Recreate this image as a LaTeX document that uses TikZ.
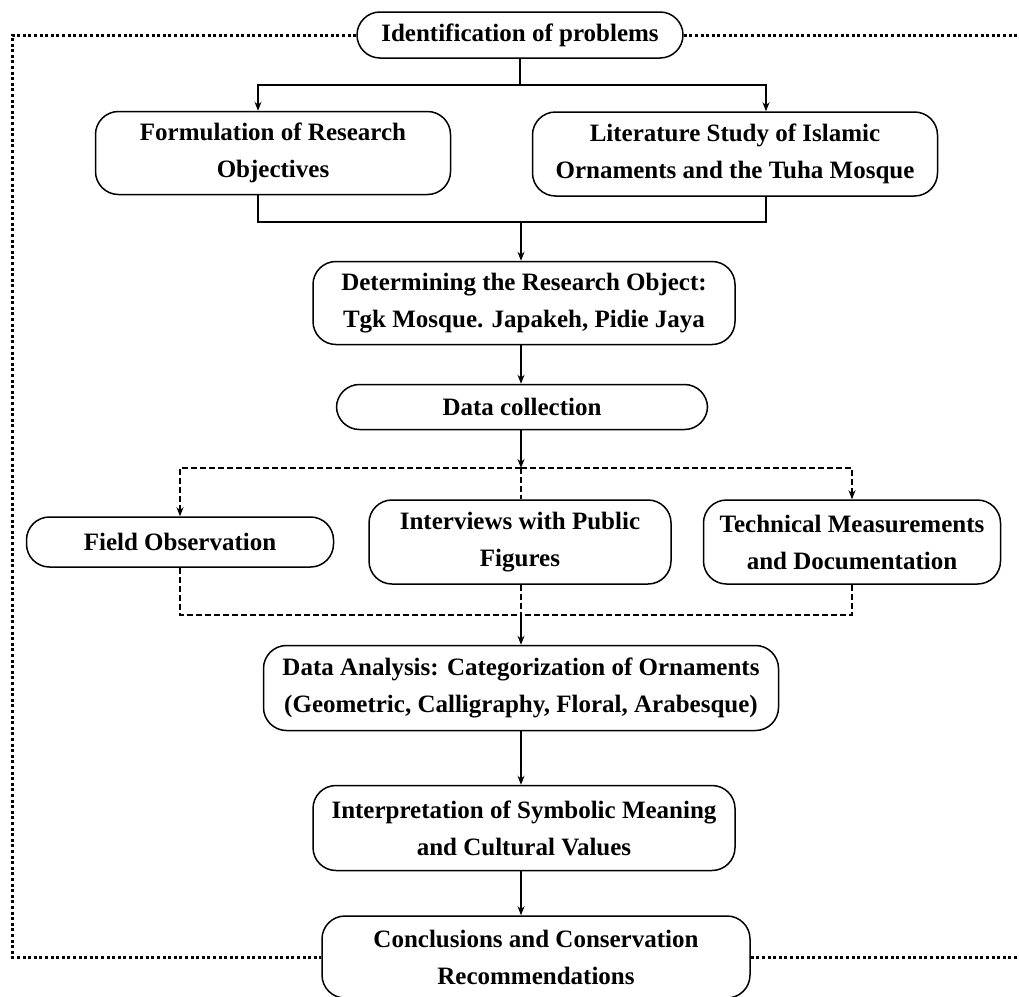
\documentclass[tikz,border=0pt]{standalone}
\usepackage{fontspec}
\setmainfont{Liberation Serif}
\usetikzlibrary{arrows.meta,positioning}

\tikzset{
  stage/.style={draw, line width=1.5pt, rounded corners=23pt, align=center,
    inner sep=0pt, font=\bfseries\fontsize{25}{37}\selectfont},
  flow/.style={line width=1.2pt, -{Stealth[length=9pt,width=7pt]}},
  link/.style={line width=1.2pt},
  branch/.style={line width=1.2pt, dash pattern=on 6pt off 3pt},
  feedback/.style={line width=3pt, dash pattern=on 3pt off 2.6pt}
}

\begin{document}
\begin{tikzpicture}[x=1pt,y=-1pt]
  \useasboundingbox (0,0) rectangle (1019,996);

  \node[stage, minimum width=326pt, minimum height=46pt] (ident) at (520,35) {Identification of problems};
  \node[stage, minimum width=355pt, minimum height=83pt] (formul) at (273,153) {Formulation of Research\\Objectives};
  \node[stage, minimum width=405pt, minimum height=84pt] (lit) at (735,154) {Literature Study of Islamic\\Ornaments and the Tuha Mosque};
  \node[stage, minimum width=422pt, minimum height=83pt] (determ) at (524,303) {Determining the Research Object:\\Tgk Mosque. Japakeh, Pidie Jaya};
  \node[stage, minimum width=371pt, minimum height=45pt] (collect) at (522,407) {Data collection};

  \node[stage, minimum width=307pt, minimum height=50pt] (field) at (180,542) {Field Observation};
  \node[stage, minimum width=302pt, minimum height=84pt] (interv) at (520,542) {Interviews with Public\\Figures};
  \node[stage, minimum width=297pt, minimum height=84pt] (tech) at (852,542) {Technical Measurements\\and Documentation};

  \node[stage, minimum width=515pt, minimum height=85pt] (analysis) at (521,688) {Data Analysis: Categorization of Ornaments\\(Geometric, Calligraphy, Floral, Arabesque)};
  \node[stage, minimum width=422pt, minimum height=85pt] (interp) at (524,828) {Interpretation of Symbolic Meaning\\and Cultural Values};
  \node[stage, minimum width=428pt, minimum height=82pt] (concl) at (536,957) {Conclusions and Conservation\\Recommendations};

  % split to objectives and literature
  \coordinate (split) at (520,85);
  \draw[link] (ident.south) -- (split);
  \draw[flow] (split) -| ([xshift=-15pt]formul.north);
  \draw[flow] (split) -| ([xshift=31pt]lit.north);

  % join towards research object
  \coordinate (join) at (521,222);
  \draw[link] ([xshift=-15pt]formul.south) |- (join);
  \draw[link] ([xshift=31pt]lit.south) |- (join);
  \draw[flow] (join) -- (join |- determ.north);
  \draw[flow] (join |- determ.south) -- (join |- collect.north);

  % data collection methods
  \coordinate (fanout) at (521,468);
  \draw[flow] (fanout |- collect.south) -- (fanout);
  \draw[branch, -{Stealth[length=9pt,width=7pt]}] (fanout) -| (field.north);
  \draw[branch, -{Stealth[length=9pt,width=7pt]}] (fanout) -| (tech.north);
  \draw[branch] (fanout) -- (fanout |- interv.north);

  \coordinate (fanin) at (521,615);
  \draw[branch] (field.south) |- (fanin);
  \draw[branch] (tech.south) |- (fanin);
  \draw[branch] (fanin |- interv.south) -- (fanin);
  \draw[flow] (fanin) -- (fanin |- analysis.north);

  \draw[flow] (fanin |- analysis.south) -- (fanin |- interp.north);
  \draw[flow] (fanin |- interp.south) -- (fanin |- concl.north);

  % feedback frame
  \draw[feedback] (ident.west) -- (12,35) -- (12,957) -- (concl.west);
  \draw[feedback] (ident.east) -- (1019,35);
  \draw[feedback] (concl.east) -- (1019,957);
\end{tikzpicture}
\end{document}
